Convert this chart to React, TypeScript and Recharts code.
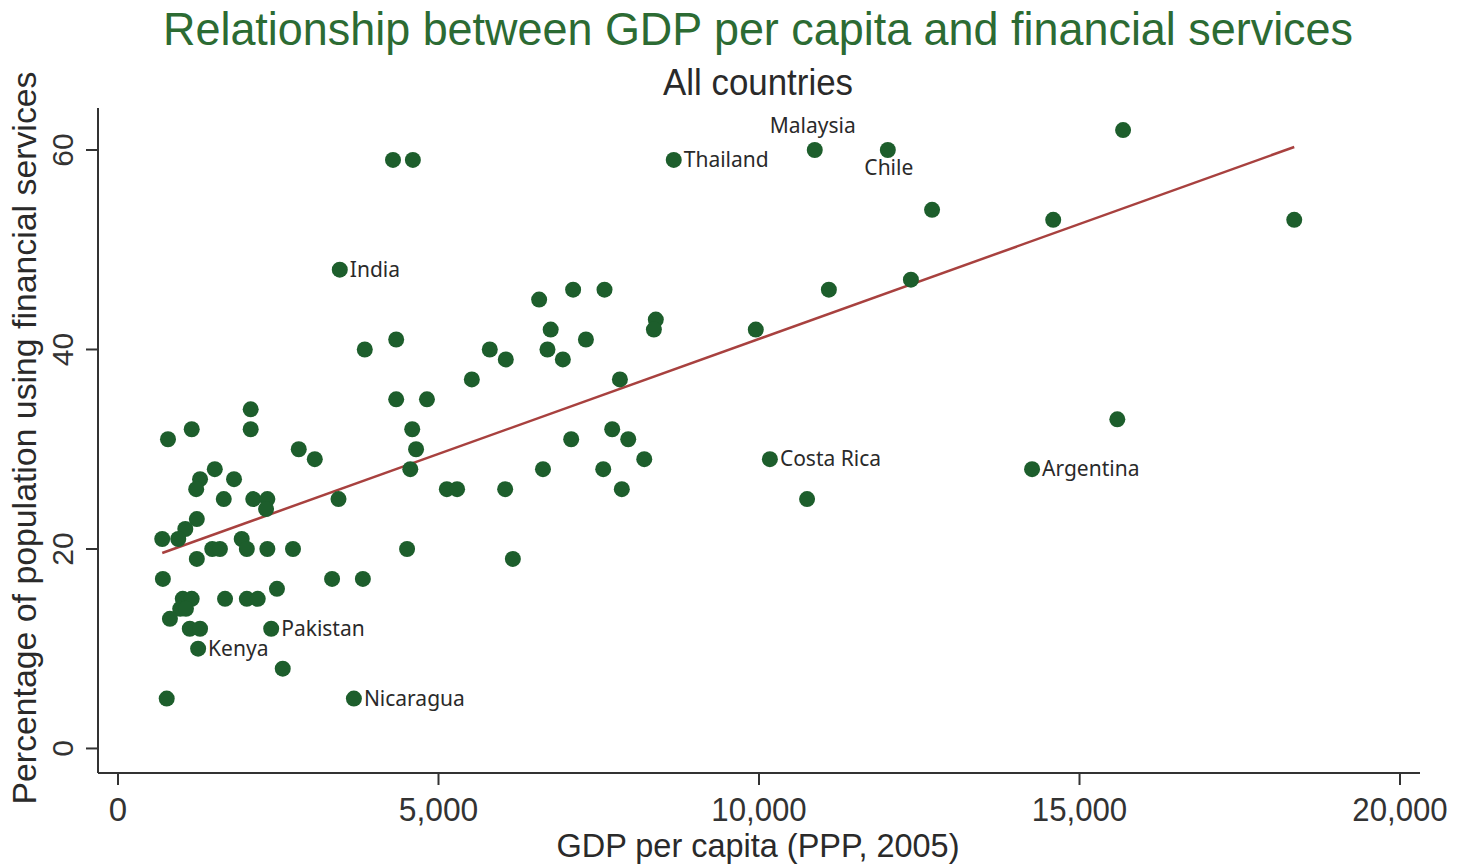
import React from 'react';
import { ScatterChart, Scatter, XAxis, YAxis, ReferenceLine } from 'recharts';

// GDP per capita (PPP, 2005) of unlabeled countries
const gdpValues = [
  4290, 4600, 15680, 12700, 14590, 18350, 12370, 11090, 7100, 7590,
  6570, 8390, 8360, 6750, 9950, 4340, 7300, 3850, 5800, 6700,
  6050, 6940, 5520, 7830, 4340, 4820, 2070, 15590, 780, 1150,
  2070, 4590, 2820, 4650, 3070, 1510, 4560, 1280, 1810, 1220,
  1650, 2110, 2330, 2310, 3440, 1230, 1050, 690, 940, 1930,
  1470, 1590, 2010, 2330, 2730, 4510, 1230, 700, 3340, 3820,
  2480, 1670, 2010, 2180, 1010, 1150, 970, 1060, 810, 1120,
  1280, 2570, 760, 5130, 5290, 6040, 7070, 7710, 7960, 8210,
  6630, 7570, 7860, 10750, 6160,
];
// Percentage of population using financial services (unlabeled countries)
const pctValues = [
  59, 59, 62, 54, 53, 53, 47, 46, 46, 46,
  45, 43, 42, 42, 42, 41, 41, 40, 40, 40,
  39, 39, 37, 37, 35, 35, 34, 33, 31, 32,
  32, 32, 30, 30, 29, 28, 28, 27, 27, 26,
  25, 25, 25, 24, 25, 23, 22, 21, 21, 21,
  20, 20, 20, 20, 20, 20, 19, 17, 17, 17,
  16, 15, 15, 15, 15, 15, 14, 14, 13, 12,
  12, 8, 5, 26, 26, 26, 31, 32, 31, 29,
  28, 28, 26, 25, 19,
];

// Labeled countries
const labelNames = ['Thailand', 'Malaysia', 'Chile', 'India', 'Costa Rica', 'Argentina', 'Pakistan', 'Kenya', 'Nicaragua'];
const labelGdp = [8670, 10870, 12010, 3460, 10170, 14260, 2390, 1250, 3680];
const labelPct = [59, 60, 60, 48, 29, 28, 12, 10, 5];

// Fitted line endpoints
const fitGdp = [690, 18350];
const fitPct = [19.6, 60.3];

const xTicks = [0, 5000, 10000, 15000, 20000];
const yTicks = [0, 20, 40, 60];

const points = [
  ...gdpValues.map((g, i) => ({ gdp: g, pct: pctValues[i], label: '' })),
  ...labelGdp.map((g, i) => ({ gdp: g, pct: labelPct[i], label: labelNames[i] })),
];

const labelPlacement: Record<string, string> = { Malaysia: 'top', Chile: 'bottom' };

const DOT = '#1d5e2c';
const TEXT = '#2a2a2a';
const AXIS = '#333333';

const DotShape = (props: any) => {
  const { cx, cy, payload } = props;
  if (cx == null || cy == null) return null;
  const label = payload?.label;
  const place = label ? labelPlacement[label] || 'right' : '';
  return (
    <g>
      <circle cx={cx} cy={cy} r={8} fill={DOT} />
      {label && place === 'right' && (
        <text x={cx + 10} y={cy + 7} fontFamily="Noto Sans, Open Sans, sans-serif" fontSize={21} fill={TEXT}>
          {label}
        </text>
      )}
      {label && place === 'top' && (
        <text x={cx - 2} y={cy - 17} textAnchor="middle" fontFamily="Noto Sans, Open Sans, sans-serif" fontSize={21} fill={TEXT}>
          {label}
        </text>
      )}
      {label && place === 'bottom' && (
        <text x={cx + 1} y={cy + 25} textAnchor="middle" fontFamily="Noto Sans, Open Sans, sans-serif" fontSize={21} fill={TEXT}>
          {label}
        </text>
      )}
    </g>
  );
};

const XTick = (props: any) => {
  const { x, y, payload } = props;
  const s = Number(payload.value).toLocaleString('en-US');
  return (
    <text x={x} y={y + 34} textAnchor="middle" fontFamily="Liberation Sans, Arial, sans-serif" fontSize={33} fill={AXIS}
      textLength={s.length > 1 ? s.length * 15.9 : undefined} lengthAdjust="spacingAndGlyphs">
      {s}
    </text>
  );
};

const YTick = (props: any) => {
  const { x, y, payload } = props;
  return (
    <text transform={`translate(${x - 11}, ${y}) rotate(-90)`} textAnchor="middle" fontFamily="Liberation Sans, Arial, sans-serif" fontSize={30} fill={AXIS}>
      {String(payload.value)}
    </text>
  );
};

export default function App() {
  return (
    <div style={{ position: 'absolute', left: 0, top: 0, width: 1458, height: 865, background: '#fff' }}>
      <ScatterChart width={1458} height={865} margin={{ top: 108, right: 38, bottom: 42, left: 38 }}>
        <XAxis
          type="number"
          dataKey="gdp"
          domain={[-312, 20312]}
          ticks={xTicks}
          allowDataOverflow
          height={50}
          tickSize={12}
          stroke={AXIS}
          axisLine={{ stroke: AXIS, strokeWidth: 2 }}
          tickLine={{ stroke: AXIS, strokeWidth: 2 }}
          tick={<XTick />}
          interval={0}
        />
        <YAxis
          type="number"
          dataKey="pct"
          domain={[-2.46, 64.21]}
          ticks={yTicks}
          allowDataOverflow
          width={60}
          tickSize={12}
          stroke={AXIS}
          axisLine={{ stroke: AXIS, strokeWidth: 2 }}
          tickLine={{ stroke: AXIS, strokeWidth: 2 }}
          tick={<YTick />}
          interval={0}
        />
        <ReferenceLine
          segment={[{ x: fitGdp[0], y: fitPct[0] }, { x: fitGdp[1], y: fitPct[1] }]}
          stroke="#a8413f"
          strokeWidth={2.5}
          ifOverflow="visible"
        />
        <Scatter data={points} shape={<DotShape />} isAnimationActive={false} />
      </ScatterChart>
      <svg width={1458} height={865} style={{ position: 'absolute', left: 0, top: 0, pointerEvents: 'none' }}>
        <text x={758} y={45} textAnchor="middle" fontFamily="Liberation Sans, Arial, sans-serif" fontSize={46} fill="#2c6b33"
          textLength={1190} lengthAdjust="spacingAndGlyphs">
          Relationship between GDP per capita and financial services
        </text>
        <text x={758} y={95} textAnchor="middle" fontFamily="Liberation Sans, Arial, sans-serif" fontSize={36} fill={TEXT}
          textLength={190} lengthAdjust="spacingAndGlyphs">
          All countries
        </text>
        <text x={758} y={857} textAnchor="middle" fontFamily="Liberation Sans, Arial, sans-serif" fontSize={34} fill={TEXT}
          textLength={403} lengthAdjust="spacingAndGlyphs">
          GDP per capita (PPP, 2005)
        </text>
        <text transform="translate(36, 438) rotate(-90)" textAnchor="middle" fontFamily="Liberation Sans, Arial, sans-serif" fontSize={33} fill={TEXT}
          textLength={733} lengthAdjust="spacingAndGlyphs">
          Percentage of population using financial services
        </text>
      </svg>
    </div>
  );
}
